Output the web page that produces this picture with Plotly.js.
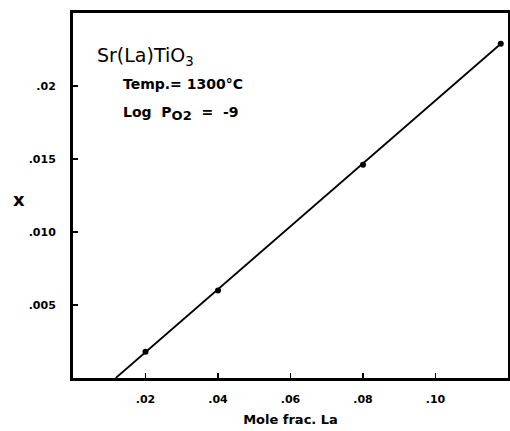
<!DOCTYPE html>
<html>
<head>
<meta charset="utf-8">
<script src="https://cdn.plot.ly/plotly-3.0.1.min.js"></script>
<style>html,body{margin:0;padding:0;background:#fff;}#plot{width:510px;height:431px;}</style>
</head>
<body>
<div id="plot"></div>
<script>
// Measured points
const moleFracLa = [0.02, 0.04, 0.08, 0.118];
const xValues = [0.0018, 0.0060, 0.0146, 0.0229];
// Fitted line end points
const fitX = [0.0118, 0.1185];
const fitY = [0.0, 0.0230];
// Tick labels
const xTickVals = [0.02, 0.04, 0.06, 0.08, 0.10];
const xTickText = ['.02', '.04', '.06', '.08', '.10'];
const yTickVals = [0.005, 0.010, 0.015, 0.020];
const yTickText = ['.005', '.010', '.015', '.02'];

const font = 'DejaVu Sans, sans-serif';

const traces = [
  {x: fitX, y: fitY, mode: 'lines', line: {color: '#000', width: 1.8}, hoverinfo: 'skip', showlegend: false},
  {x: moleFracLa, y: xValues, mode: 'markers', marker: {color: '#000', size: 6}, showlegend: false}
];

const axisCommon = {
  showline: true, mirror: true, linecolor: '#000', linewidth: 3,
  ticks: 'inside', ticklen: 5, tickwidth: 1.5, tickcolor: '#000',
  showgrid: false, zeroline: false,
  tickfont: {family: font, size: 11, color: '#000', weight: 'bold'}
};

const layout = {
  width: 510, height: 431,
  margin: {l: 73, r: 2, t: 13, b: 53},
  paper_bgcolor: '#fff', plot_bgcolor: '#fff',
  xaxis: Object.assign({}, axisCommon, {
    range: [0, 0.12], tickvals: xTickVals, ticktext: xTickText,
    ticklabelstandoff: 9,
    title: {text: 'Mole frac. La', font: {family: font, size: 13, color: '#000', weight: 'bold'}, standoff: 10}
  }),
  yaxis: Object.assign({}, axisCommon, {
    range: [0, 0.025], tickvals: yTickVals, ticktext: yTickText,
    ticklabelstandoff: 12
  }),
  annotations: [
    {xref: 'paper', yref: 'paper', x: -0.125, y: 0.49, text: 'x', showarrow: false,
     font: {family: font, size: 18, color: '#000', weight: 'bold'}, xanchor: 'center', yanchor: 'middle'},
    {xref: 'paper', yref: 'paper', x: 0.05, y: 0.88, text: 'Sr(La)TiO<sub>3</sub>', showarrow: false,
     font: {family: font, size: 19, color: '#000'}, xanchor: 'left', yanchor: 'middle'},
    {xref: 'paper', yref: 'paper', x: 0.11, y: 0.805, text: '<b>Temp.= 1300°C</b>', showarrow: false,
     font: {family: font, size: 14, color: '#000'}, xanchor: 'left', yanchor: 'middle'},
    {xref: 'paper', yref: 'paper', x: 0.11, y: 0.725, text: '<b>Log  P<sub><span style="font-size:13px">O2</span></sub>  =  -9</b>', showarrow: false,
     font: {family: font, size: 14, color: '#000'}, xanchor: 'left', yanchor: 'middle'}
  ]
};

Plotly.newPlot('plot', traces, layout, {displayModeBar: false, staticPlot: true});
</script>
</body>
</html>
